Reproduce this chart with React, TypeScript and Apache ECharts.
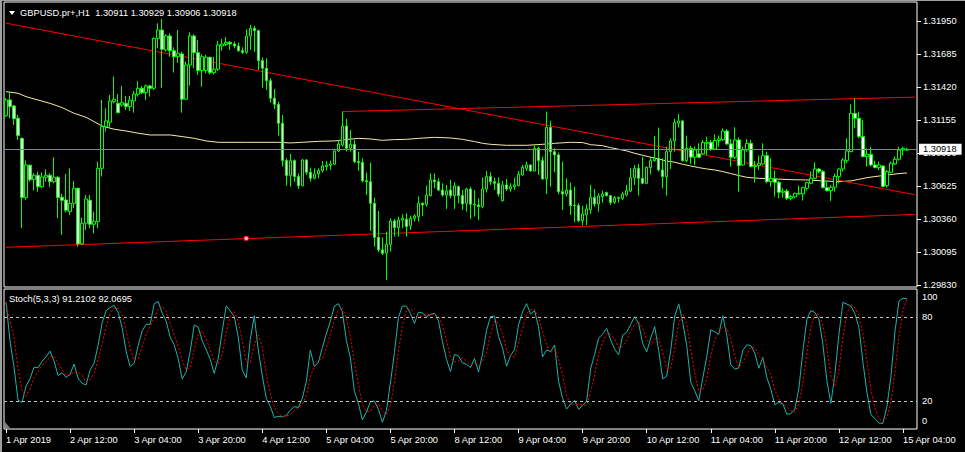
import React, { useEffect, useRef } from 'react';
import * as echarts from 'echarts';

const FONT = '"Liberation Sans", Arial, sans-serif';
const FS = 9.3;

// ---- Candles (H1 bars, 1 Apr 2019 20:00 ... 15 Apr 2019 05:00) ----
const opens = [
  1.31188, 1.31314, 1.31266, 1.31167, 1.31006, 1.30530, 1.30790, 1.30674, 1.30709, 1.30618,
  1.30693, 1.30709, 1.30658, 1.30693, 1.30532, 1.30511, 1.30417, 1.30484, 1.30605, 1.30158,
  1.30324, 1.30508, 1.30316, 1.30337, 1.30765, 1.31100, 1.31135, 1.31301, 1.31287, 1.31274,
  1.31287, 1.31261, 1.31306, 1.31360, 1.31408, 1.31373, 1.31427, 1.31408, 1.31809, 1.31876,
  1.31716, 1.31828, 1.31710, 1.31662, 1.31684, 1.31320, 1.31595, 1.31828, 1.31694, 1.31550,
  1.31550, 1.31657, 1.31534, 1.31561, 1.31748, 1.31759, 1.31777, 1.31764, 1.31748, 1.31710,
  1.31697, 1.31828, 1.31890, 1.31871, 1.31630, 1.31569, 1.31469, 1.31328, 1.31279, 1.31127,
  1.30827, 1.30707, 1.30827, 1.30699, 1.30626, 1.30832, 1.30733, 1.30685, 1.30720, 1.30747,
  1.30779, 1.30787, 1.30798, 1.30905, 1.30953, 1.31105, 1.30926, 1.30958, 1.30819, 1.30811,
  1.30666, 1.30658, 1.30484, 1.30211, 1.30110, 1.30083, 1.30155, 1.30342, 1.30289, 1.30350,
  1.30356, 1.30305, 1.30364, 1.30377, 1.30484, 1.30476, 1.30546, 1.30672, 1.30658, 1.30591,
  1.30551, 1.30591, 1.30546, 1.30618, 1.30546, 1.30484, 1.30599, 1.30476, 1.30471, 1.30458,
  1.30599, 1.30699, 1.30658, 1.30645, 1.30506, 1.30632, 1.30599, 1.30618, 1.30626, 1.30712,
  1.30765, 1.30792, 1.30744, 1.30926, 1.30827, 1.30680, 1.31095, 1.30899, 1.30873, 1.30578,
  1.30559, 1.30591, 1.30468, 1.30466, 1.30345, 1.30391, 1.30433, 1.30530, 1.30479, 1.30538,
  1.30570, 1.30546, 1.30492, 1.30524, 1.30524, 1.30551, 1.30583, 1.30690, 1.30765, 1.30685,
  1.30645, 1.30771, 1.30827, 1.30846, 1.30752, 1.30699, 1.30899, 1.30985, 1.31127, 1.31146,
  1.30827, 1.30926, 1.30854, 1.30881, 1.30881, 1.30966, 1.30974, 1.30921, 1.30988, 1.30996,
  1.31065, 1.30961, 1.30854, 1.30993, 1.30792, 1.30913, 1.30966, 1.30779, 1.30787, 1.30800,
  1.30867, 1.30658, 1.30680, 1.30653, 1.30573, 1.30583, 1.30524, 1.30535, 1.30559, 1.30559,
  1.30605, 1.30645, 1.30685, 1.30760, 1.30739, 1.30610, 1.30586, 1.30613, 1.30699, 1.30760,
  1.30827, 1.30899, 1.31207, 1.31167, 1.31020, 1.30859, 1.30878, 1.30792, 1.30771, 1.30784,
  1.30626, 1.30733, 1.30800, 1.30838, 1.30913, 1.30911,
];
const highs = [
  1.31328, 1.31381, 1.31274, 1.31194, 1.31012, 1.30827, 1.30795, 1.30725, 1.30739, 1.30733,
  1.30757, 1.30725, 1.30854, 1.30704, 1.30559, 1.30720, 1.30765, 1.30664, 1.30610, 1.30369,
  1.30551, 1.30551, 1.30417, 1.30819, 1.31314, 1.31247, 1.31354, 1.31502, 1.31362, 1.31427,
  1.31346, 1.31346, 1.31386, 1.31467, 1.31427, 1.31440, 1.31435, 1.31817, 1.31930, 1.31965,
  1.31842, 1.31850, 1.31737, 1.31876, 1.31702, 1.31622, 1.31858, 1.31842, 1.31796, 1.31681,
  1.31676, 1.31662, 1.31660, 1.31788, 1.31804, 1.31820, 1.31788, 1.31783, 1.31775, 1.31737,
  1.31882, 1.31917, 1.31909, 1.31879, 1.31654, 1.31649, 1.31488, 1.31403, 1.31301, 1.31194,
  1.30846, 1.30881, 1.30838, 1.30725, 1.30840, 1.30840, 1.30771, 1.30765, 1.30765, 1.30824,
  1.30824, 1.30827, 1.30913, 1.30993, 1.31221, 1.31162, 1.31073, 1.30993, 1.30899, 1.30846,
  1.30731, 1.30811, 1.30530, 1.30423, 1.30209, 1.30257, 1.30364, 1.30359, 1.30377, 1.30396,
  1.30404, 1.30385, 1.30396, 1.30538, 1.30492, 1.30626, 1.30725, 1.30725, 1.30685, 1.30645,
  1.30632, 1.30672, 1.30653, 1.30626, 1.30591, 1.30610, 1.30618, 1.30591, 1.30524, 1.30690,
  1.30744, 1.30733, 1.30690, 1.30693, 1.30664, 1.30680, 1.30645, 1.30690, 1.30744, 1.30792,
  1.30819, 1.30798, 1.30947, 1.30939, 1.30859, 1.31221, 1.31146, 1.30926, 1.30891, 1.30819,
  1.30685, 1.30650, 1.30618, 1.30484, 1.30463, 1.30476, 1.30632, 1.30599, 1.30565, 1.30586,
  1.30578, 1.30551, 1.30543, 1.30538, 1.30578, 1.30632, 1.30765, 1.30792, 1.30800, 1.30859,
  1.30779, 1.30859, 1.31025, 1.31092, 1.30846, 1.30939, 1.31006, 1.31162, 1.31202, 1.31154,
  1.31028, 1.30945, 1.30939, 1.30966, 1.30993, 1.31020, 1.30993, 1.31038, 1.31028, 1.31087,
  1.31081, 1.31001, 1.31095, 1.31014, 1.30939, 1.31001, 1.30993, 1.30824, 1.30867, 1.30966,
  1.30899, 1.30846, 1.30747, 1.30664, 1.30605, 1.30599, 1.30551, 1.30570, 1.30626, 1.30618,
  1.30658, 1.30739, 1.30814, 1.30765, 1.30752, 1.30658, 1.30632, 1.30723, 1.30765, 1.30846,
  1.31006, 1.31279, 1.31328, 1.31221, 1.31154, 1.30926, 1.30939, 1.30827, 1.30819, 1.30787,
  1.30752, 1.30819, 1.30859, 1.30939, 1.30939, 1.30929,
];
const lows = [
  1.31180, 1.31167, 1.31113, 1.30993, 1.30284, 1.30511, 1.30658, 1.30586, 1.30578, 1.30605,
  1.30658, 1.30613, 1.30645, 1.30364, 1.30230, 1.30412, 1.30391, 1.30444, 1.30136, 1.30150,
  1.30270, 1.30284, 1.30243, 1.30284, 1.30699, 1.31060, 1.31087, 1.31287, 1.31207, 1.31261,
  1.31234, 1.31226, 1.31212, 1.31341, 1.31362, 1.31314, 1.31341, 1.31395, 1.31729, 1.31413,
  1.31702, 1.31662, 1.31534, 1.31614, 1.31212, 1.31314, 1.31429, 1.31569, 1.31515, 1.31421,
  1.31528, 1.31520, 1.31520, 1.31547, 1.31708, 1.31748, 1.31716, 1.31729, 1.31702, 1.31684,
  1.31684, 1.31716, 1.31702, 1.31555, 1.31413, 1.31395, 1.31293, 1.31242, 1.31028, 1.30779,
  1.30626, 1.30618, 1.30658, 1.30599, 1.30621, 1.30712, 1.30658, 1.30677, 1.30685, 1.30731,
  1.30749, 1.30752, 1.30792, 1.30897, 1.30939, 1.30899, 1.30899, 1.30806, 1.30747, 1.30653,
  1.30551, 1.30262, 1.30136, 1.30091, 1.30069, 1.29869, 1.30096, 1.30217, 1.30217, 1.30284,
  1.30217, 1.30270, 1.30337, 1.30337, 1.30383, 1.30458, 1.30538, 1.30605, 1.30583, 1.30538,
  1.30439, 1.30524, 1.30439, 1.30484, 1.30431, 1.30417, 1.30359, 1.30377, 1.30350, 1.30444,
  1.30570, 1.30632, 1.30591, 1.30538, 1.30498, 1.30583, 1.30578, 1.30591, 1.30621, 1.30707,
  1.30744, 1.30739, 1.30739, 1.30712, 1.30672, 1.30559, 1.30618, 1.30733, 1.30557, 1.30431,
  1.30538, 1.30391, 1.30332, 1.30332, 1.30305, 1.30310, 1.30399, 1.30458, 1.30417, 1.30490,
  1.30538, 1.30471, 1.30479, 1.30490, 1.30511, 1.30538, 1.30573, 1.30632, 1.30546, 1.30637,
  1.30637, 1.30717, 1.30819, 1.30739, 1.30605, 1.30546, 1.30760, 1.30899, 1.31092, 1.30819,
  1.30814, 1.30800, 1.30792, 1.30846, 1.30873, 1.30873, 1.30905, 1.30913, 1.30939, 1.30985,
  1.30953, 1.30779, 1.30840, 1.30578, 1.30787, 1.30899, 1.30773, 1.30650, 1.30752, 1.30792,
  1.30645, 1.30618, 1.30538, 1.30524, 1.30530, 1.30511, 1.30506, 1.30524, 1.30551, 1.30506,
  1.30586, 1.30637, 1.30677, 1.30725, 1.30605, 1.30578, 1.30503, 1.30578, 1.30645, 1.30739,
  1.30806, 1.30894, 1.31087, 1.31006, 1.30854, 1.30779, 1.30779, 1.30765, 1.30752, 1.30616,
  1.30610, 1.30725, 1.30792, 1.30827, 1.30867, 1.30906,
];
const closes = [
  1.31314, 1.31261, 1.31164, 1.31028, 1.30530, 1.30792, 1.30674, 1.30709, 1.30618, 1.30696,
  1.30709, 1.30658, 1.30693, 1.30530, 1.30508, 1.30428, 1.30484, 1.30605, 1.30158, 1.30324,
  1.30519, 1.30316, 1.30340, 1.30765, 1.31100, 1.31146, 1.31306, 1.31320, 1.31212, 1.31293,
  1.31261, 1.31314, 1.31362, 1.31408, 1.31373, 1.31427, 1.31408, 1.31809, 1.31876, 1.31721,
  1.31828, 1.31710, 1.31662, 1.31689, 1.31320, 1.31595, 1.31828, 1.31694, 1.31550, 1.31662,
  1.31657, 1.31534, 1.31561, 1.31756, 1.31764, 1.31777, 1.31764, 1.31748, 1.31710, 1.31697,
  1.31828, 1.31890, 1.31871, 1.31630, 1.31569, 1.31469, 1.31328, 1.31279, 1.31127, 1.30827,
  1.30707, 1.30827, 1.30699, 1.30626, 1.30832, 1.30733, 1.30685, 1.30720, 1.30747, 1.30784,
  1.30792, 1.30800, 1.30905, 1.30961, 1.31105, 1.30926, 1.30958, 1.30819, 1.30811, 1.30666,
  1.30658, 1.30484, 1.30211, 1.30110, 1.30083, 1.30155, 1.30342, 1.30289, 1.30350, 1.30364,
  1.30297, 1.30364, 1.30383, 1.30484, 1.30471, 1.30551, 1.30672, 1.30658, 1.30591, 1.30551,
  1.30583, 1.30546, 1.30624, 1.30546, 1.30479, 1.30599, 1.30476, 1.30471, 1.30458, 1.30599,
  1.30699, 1.30658, 1.30645, 1.30559, 1.30632, 1.30599, 1.30618, 1.30632, 1.30717, 1.30773,
  1.30792, 1.30744, 1.30926, 1.30827, 1.30680, 1.31095, 1.30899, 1.30873, 1.30578, 1.30559,
  1.30591, 1.30466, 1.30466, 1.30345, 1.30399, 1.30439, 1.30530, 1.30479, 1.30543, 1.30559,
  1.30546, 1.30490, 1.30530, 1.30532, 1.30559, 1.30586, 1.30690, 1.30765, 1.30685, 1.30645,
  1.30773, 1.30827, 1.30846, 1.30752, 1.30699, 1.30899, 1.30985, 1.31132, 1.31146, 1.30827,
  1.30926, 1.30854, 1.30913, 1.30854, 1.30974, 1.30974, 1.30918, 1.30988, 1.31001, 1.31065,
  1.30961, 1.30854, 1.30993, 1.30787, 1.30913, 1.30966, 1.30779, 1.30787, 1.30806, 1.30867,
  1.30658, 1.30685, 1.30653, 1.30573, 1.30583, 1.30524, 1.30538, 1.30565, 1.30565, 1.30610,
  1.30650, 1.30685, 1.30760, 1.30739, 1.30610, 1.30586, 1.30613, 1.30701, 1.30760, 1.30832,
  1.30905, 1.31207, 1.31167, 1.31020, 1.30859, 1.30878, 1.30792, 1.30771, 1.30792, 1.30618,
  1.30739, 1.30806, 1.30838, 1.30913, 1.30926, 1.30918,
];

// ---- Moving average (read at sample bars) ----
const maBars = [
  0, 3, 5, 8, 11, 14, 17, 20, 22, 24, 27, 30, 33, 36, 41, 44, 47, 50, 53, 60,
  68, 71, 74, 78, 82, 85, 88, 91, 94, 97, 100, 103, 107, 111, 114, 117, 119, 121, 125, 130,
  134, 137, 141, 144, 146, 149, 151, 153, 155, 157, 159, 161, 163, 165, 167, 169, 171, 173, 175, 177,
  179, 181, 183, 185, 188, 192, 196, 200, 204, 208, 211, 213, 215, 217, 219, 221, 223, 225,
];
const maValues = [
  1.31381, 1.31368, 1.31341, 1.31314, 1.31287, 1.31253, 1.31207, 1.31175, 1.31140, 1.31105,
  1.31079, 1.31065, 1.31047, 1.31033, 1.31033, 1.31020, 1.31006, 1.30985, 1.30974, 1.30974,
  1.30974, 1.30969, 1.30974, 1.30982, 1.30985, 1.30996, 1.31006, 1.31001, 1.30990, 1.30996,
  1.30998, 1.31006, 1.31014, 1.31009, 1.30998, 1.30980, 1.30966, 1.30958, 1.30950, 1.30950,
  1.30958, 1.30966, 1.30974, 1.30972, 1.30955, 1.30947, 1.30931, 1.30918, 1.30905, 1.30886,
  1.30870, 1.30854, 1.30840, 1.30824, 1.30814, 1.30798, 1.30784, 1.30771, 1.30760, 1.30752,
  1.30739, 1.30723, 1.30707, 1.30693, 1.30685, 1.30680, 1.30674, 1.30672, 1.30664, 1.30658,
  1.30664, 1.30677, 1.30690, 1.30699, 1.30707, 1.30715, 1.30723, 1.30728,
];

// ---- Trend lines (anchor bar, price) ----
const trendDownBars = [0, 227];
const trendDownPrices = [1.31931, 1.30553];
const trendLowBars = [0, 227];
const trendLowPrices = [1.30131, 1.30395];
const trendHighBars = [84, 227];
const trendHighPrices = [1.31221, 1.31337];
const anchorBar = 60;
const anchorPrice = 1.30203;

// ---- Axis labels ----
const priceTickLabels = ['1.29830', '1.30095', '1.30360', '1.30625', '1.30890', '1.31155', '1.31420', '1.31685', '1.31950'];
const stochTickLabels = ['0', '20', '80', '100'];
const stochLevels = [20, 80];
const timeTickLabels = [
  '1 Apr 2019', '2 Apr 12:00', '3 Apr 04:00', '3 Apr 20:00', '4 Apr 12:00', '5 Apr 04:00', '5 Apr 20:00',
  '8 Apr 12:00', '9 Apr 04:00', '9 Apr 20:00', '10 Apr 12:00', '11 Apr 04:00', '11 Apr 20:00', '12 Apr 12:00', '15 Apr 04:00',
];
const bidPrice = 1.30918;
const titleText = 'GBPUSD.pr+,H1  1.30911 1.30929 1.30906 1.30918';
const stochText = 'Stoch(5,3,3) 91.2102 92.0695';

const SLOTS = 228;
const STOCH_H = 140; // pane height in px
const EDGE_INSET = 8; // MT4 keeps the 0 / 100 labels inside the pane

function buildTimes(n: number): string[] {
  const out: string[] = [];
  let t = Date.UTC(2019, 3, 1, 20);
  while (out.length < n) {
    const d = new Date(t);
    const wd = d.getUTCDay();
    if (wd !== 0 && wd !== 6) {
      const p = (x: number) => String(x).padStart(2, '0');
      out.push(`${d.getUTCFullYear()}.${p(d.getUTCMonth() + 1)}.${p(d.getUTCDate())} ${p(d.getUTCHours())}:00`);
    }
    t += 3600000;
  }
  return out;
}

function stochastic(kp: number, slow: number, dp: number) {
  const n = closes.length;
  const num: number[] = [];
  const den: number[] = [];
  for (let i = 0; i < n; i++) {
    let lo = Infinity;
    let hi = -Infinity;
    for (let j = Math.max(0, i - kp + 1); j <= i; j++) {
      lo = Math.min(lo, lows[j]);
      hi = Math.max(hi, highs[j]);
    }
    num.push(closes[i] - lo);
    den.push(hi - lo);
  }
  const main: number[] = [];
  for (let i = 0; i < n; i++) {
    let a = 0;
    let b = 0;
    for (let j = Math.max(0, i - slow + 1); j <= i; j++) {
      a += num[j];
      b += den[j];
    }
    main.push(b === 0 ? 100 : (100 * a) / b);
  }
  const sig: number[] = [];
  for (let i = 0; i < n; i++) {
    let s = 0;
    let c = 0;
    for (let j = Math.max(0, i - dp + 1); j <= i; j++) {
      s += main[j];
      c++;
    }
    sig.push(s / c);
  }
  return { main, sig };
}

function buildOption() {
  const cats = buildTimes(SLOTS);
  const candles = opens.map((o, i) => [o, closes[i], lows[i], highs[i]]);
  const ma = maBars.map((b, i) => [b, maValues[i]]);
  const { main, sig } = stochastic(5, 3, 3);
  const priceTicks = priceTickLabels.map(Number);
  const stochVals = stochTickLabels.map(Number);
  const inset = (EDGE_INSET * 100) / STOCH_H;
  const stochPos = stochVals.map((v) => Math.min(100 - inset, Math.max(inset, v)));
  const stochLabelFor = (v: number) => {
    let best = 0;
    stochPos.forEach((p, i) => {
      if (Math.abs(p - v) < Math.abs(stochPos[best] - v)) best = i;
    });
    return stochTickLabels[best];
  };
  const white = '#ffffff';
  const lineSeg = (bars: number[], prices: number[]) => ({
    type: 'line',
    xAxisIndex: 0,
    yAxisIndex: 0,
    data: bars.map((b, i) => [b, prices[i]]),
    symbol: 'none',
    silent: true,
    lineStyle: { color: '#ff0000', width: 1 },
    z: 3,
  });

  return {
    animation: false,
    backgroundColor: '#000000',
    grid: [
      { left: 4, top: 2, width: 913, height: 285, show: true, borderColor: white, borderWidth: 1, backgroundColor: 'transparent' },
      { left: 4, top: 289, width: 913, height: STOCH_H, show: true, borderColor: white, borderWidth: 1, backgroundColor: 'transparent' },
    ],
    xAxis: [
      {
        type: 'category', gridIndex: 0, data: cats, boundaryGap: true,
        axisLine: { show: false }, axisTick: { show: false }, axisLabel: { show: false }, splitLine: { show: false },
      },
      {
        type: 'category', gridIndex: 1, data: cats, boundaryGap: true,
        axisLine: { show: false },
        axisTick: { show: true, interval: 15, alignWithLabel: true, length: 4, lineStyle: { color: white } },
        axisLabel: {
          interval: 15, color: white, fontSize: FS, fontFamily: FONT, align: 'left', margin: 6,
          formatter: (_v: string, idx: number) => (idx % 16 === 0 ? timeTickLabels[idx / 16] || '' : ''),
        },
        splitLine: { show: false },
      },
    ],
    yAxis: [
      {
        type: 'value', gridIndex: 0, position: 'right', min: 1.29812, max: 1.32101,
        axisLine: { show: false }, splitLine: { show: false },
        axisTick: { show: true, length: 4, customValues: priceTicks, lineStyle: { color: white } },
        axisLabel: {
          customValues: priceTicks, color: white, fontSize: FS, fontFamily: FONT, margin: 6,
          formatter: (v: number) => v.toFixed(5),
        },
      },
      {
        type: 'value', gridIndex: 1, position: 'right', min: 0, max: 100,
        axisLine: { show: false }, splitLine: { show: false },
        axisTick: { show: false },
        axisLabel: {
          customValues: stochPos, color: white, fontSize: FS, fontFamily: FONT, margin: 5,
          formatter: (v: number) => stochLabelFor(v),
        },
      },
    ],
    series: [
      {
        type: 'line', xAxisIndex: 0, yAxisIndex: 0, data: [], clip: false, silent: true,
        markLine: {
          silent: true, symbol: 'none', animation: false, precision: 5,
          data: [{ yAxis: bidPrice }],
          lineStyle: { color: '#778899', width: 1, type: 'solid' },
          label: {
            show: true, position: 'end', distance: 2, formatter: bidPrice.toFixed(5),
            color: '#000000', backgroundColor: white, fontSize: FS, fontFamily: FONT,
            padding: [1, 5, 1, 4], lineHeight: 9,
          },
        },
        z: 1,
      },
      {
        type: 'line', xAxisIndex: 0, yAxisIndex: 0, data: ma, symbol: 'none', silent: true,
        lineStyle: { color: '#f8e8a8', width: 1 }, z: 2,
      },
      lineSeg(trendDownBars, trendDownPrices),
      lineSeg(trendLowBars, trendLowPrices),
      lineSeg(trendHighBars, trendHighPrices),
      {
        type: 'candlestick', xAxisIndex: 0, yAxisIndex: 0, data: candles, barWidth: 3,
        itemStyle: { color: '#000000', color0: white, borderColor: '#00ff00', borderColor0: '#00ff00', borderWidth: 1 },
        z: 4,
      },
      {
        type: 'scatter', xAxisIndex: 0, yAxisIndex: 0, data: [[anchorBar, anchorPrice]],
        symbol: 'rect', symbolSize: 4, silent: true,
        itemStyle: { color: white, borderColor: '#ff0000', borderWidth: 1 }, z: 5,
      },
      {
        type: 'line', xAxisIndex: 1, yAxisIndex: 1, data: main, symbol: 'none', silent: true,
        lineStyle: { color: '#20b2aa', width: 1 }, z: 3,
        markLine: {
          silent: true, symbol: 'none', animation: false, label: { show: false }, precision: 2,
          lineStyle: { color: '#c0c0c0', width: 1, type: [3, 3] },
          data: stochLevels.map((v) => ({ yAxis: v })),
        },
      },
      {
        type: 'line', xAxisIndex: 1, yAxisIndex: 1, data: sig, symbol: 'none', silent: true,
        lineStyle: { color: '#ff0000', width: 1, type: [2, 2] }, z: 4,
      },
    ],
    graphic: [
      { type: 'rect', shape: { x: 0, y: 0, width: 2, height: 452 }, style: { fill: '#a0a0a0' }, z: 100 },
      { type: 'rect', shape: { x: 0, y: 0, width: 965, height: 1 }, style: { fill: '#a0a0a0' }, z: 100 },
      { type: 'polygon', shape: { points: [[9, 11], [15, 11], [12, 15]] }, style: { fill: white }, z: 100 },
      {
        type: 'text', x: 20, y: 13, z: 100,
        style: { text: titleText, fill: white, font: `${FS}px ${FONT}`, verticalAlign: 'middle', align: 'left' },
      },
      {
        type: 'text', x: 9, y: 298.5, z: 100,
        style: { text: stochText, fill: white, font: `${FS}px ${FONT}`, verticalAlign: 'middle', align: 'left' },
      },
      { type: 'polygon', shape: { points: [[5, 422], [5, 428], [10, 428]] }, style: { fill: '#808080' }, z: 100 },
    ],
  };
}

export default function App() {
  const ref = useRef<HTMLDivElement>(null);
  useEffect(() => {
    document.body.style.margin = '0';
    document.body.style.background = '#000';
    const chart = echarts.init(ref.current as HTMLDivElement, null, { renderer: 'svg' });
    chart.setOption(buildOption() as any);
    return () => chart.dispose();
  }, []);
  return <div ref={ref} style={{ width: 965, height: 452 }} />;
}
